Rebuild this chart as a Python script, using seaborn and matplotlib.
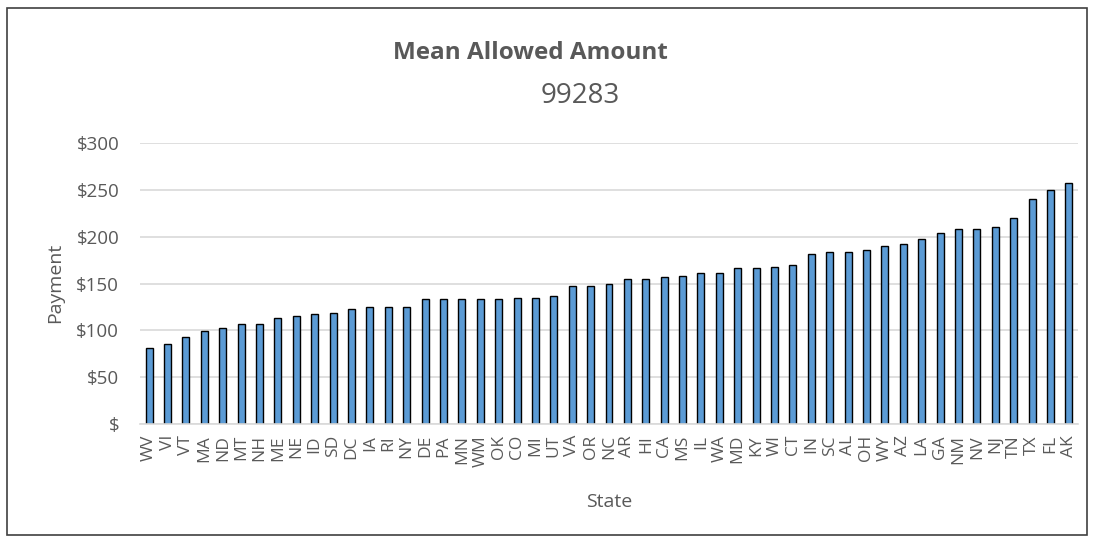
import matplotlib
matplotlib.use("Agg")
import matplotlib.pyplot as plt
import seaborn as sns
import pandas as pd
from matplotlib.patches import Rectangle
from matplotlib.ticker import FuncFormatter

states = ["WV", "VI", "VT", "MA", "ND", "MT", "NH", "ME", "NE", "ID", "SD", "DC", "IA",
          "RI", "NY", "DE", "PA", "MN", "WM", "OK", "CO", "MI", "UT", "VA", "OR", "NC",
          "AR", "HI", "CA", "MS", "IL", "WA", "MD", "KY", "WI", "CT", "IN", "SC", "AL",
          "OH", "WY", "AZ", "LA", "GA", "NM", "NV", "NJ", "TN", "TX", "FL", "AK"]
payments = [81, 85, 93, 99, 103, 107, 107, 113, 115, 117, 119, 123, 125,
            125, 125, 133, 133, 133, 133, 133, 135, 135, 137, 147, 147, 149,
            155, 155, 157, 158, 161, 161, 167, 167, 168, 170, 182, 184, 184,
            186, 190, 192, 198, 204, 208, 208, 210, 220, 240, 250, 257]
yticks = [0, 50, 100, 150, 200, 250, 300]

sns.set_theme(style="white")
plt.rcParams['font.family'] = ['Open Sans', 'DejaVu Sans']
txt = "#595959"

df = pd.DataFrame({"State": states, "Payment": payments})

W, H = 1094, 541
fig = plt.figure(figsize=(W / 100, H / 100), dpi=100)
ax = fig.add_axes([140 / W, 1 - 424 / H, (1078 - 140) / W, (424 - 143) / H])

sns.barplot(data=df, x="State", y="Payment", ax=ax, color="#5B9BD5",
            width=0.38, edgecolor="black", linewidth=1.0, saturation=1)

ax.set_ylim(0, 300)
ax.set_xlim(-0.5, len(states) - 0.5)
ax.set_yticks(yticks)
ax.yaxis.set_major_formatter(FuncFormatter(lambda v, p: "$" if v == 0 else f"${int(v)}"))
ax.grid(axis="y", color="#D9D9D9", linewidth=1.2)
ax.set_axisbelow(True)
for s in ["top", "right", "left"]:
    ax.spines[s].set_visible(False)
ax.spines["bottom"].set_color("#D9D9D9")
ax.spines["bottom"].set_linewidth(1.2)

ax.tick_params(axis="y", length=0, pad=15, labelsize=13.5, labelcolor=txt)
ax.tick_params(axis="x", length=0, pad=8, labelsize=12.5, labelcolor=txt, rotation=90)

ax.set_ylabel("")
ax.set_xlabel("")
fig.text(55 / W, 1 - 283 / H, "Payment", ha="center", va="center", rotation=90,
         fontsize=14, color=txt)
fig.text(609 / W, 1 - 502 / H, "State", ha="center", va="center",
         fontsize=14, color=txt)

fig.text(530 / W, 1 - 59 / H, "Mean Allowed Amount", ha="center", va="baseline",
         fontsize=17.5, fontweight="bold", color=txt)
fig.text(580 / W, 1 - 103 / H, "99283", ha="center", va="baseline",
         fontsize=20, color=txt)

fig.patches.append(Rectangle((7 / W, 1 - 535 / H), (1087 - 7) / W, (535 - 8) / H,
                             transform=fig.transFigure, fill=False,
                             edgecolor="#404040", linewidth=1.2))

fig.savefig("out.png", dpi=100)
